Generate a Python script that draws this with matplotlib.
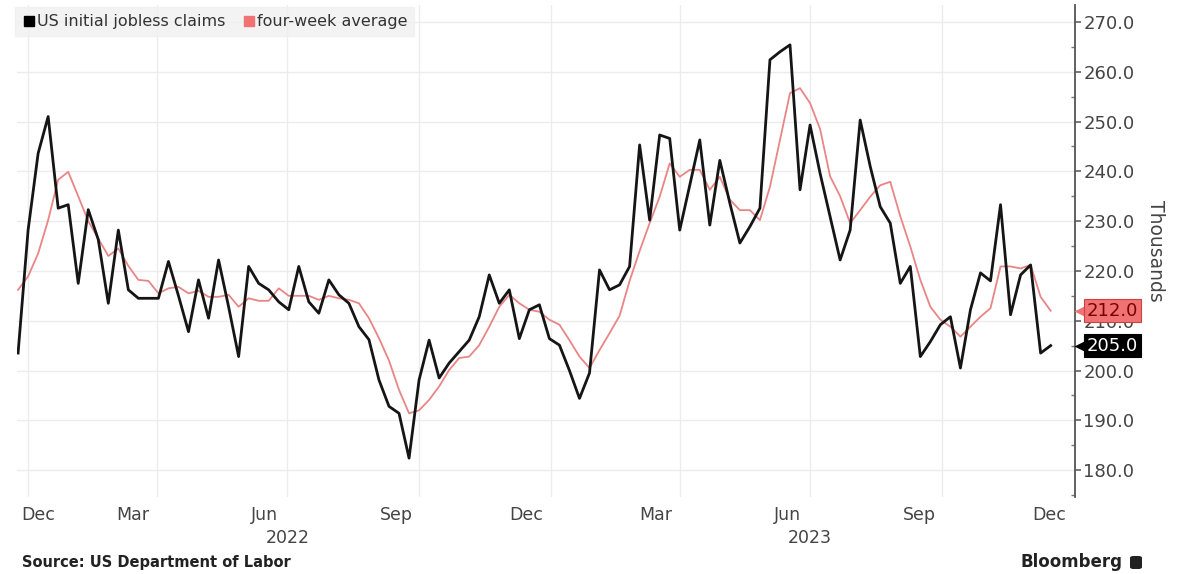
import matplotlib
matplotlib.use('Agg')
import matplotlib.pyplot as plt
import matplotlib.transforms as mtransforms
from matplotlib.lines import Line2D
from matplotlib.patches import FancyBboxPatch
import numpy as np
import pandas as pd

# Weekly US initial jobless claims (thousands), weeks ending Saturday
first_week = '2021-12-25'
claims = [
    203.5, 228.2, 243.6, 251.0, 232.6, 233.3, 217.5, 232.3, 226.3, 213.5,
    228.2, 216.2, 214.5, 214.5, 214.5, 221.9, 215.0, 207.8, 218.2, 210.5,
    222.2, 212.8, 202.8, 220.9, 217.5, 216.2, 213.8, 212.2, 220.9, 213.8,
    211.5, 218.2, 215.2, 213.5, 208.8, 206.2, 198.1, 192.8, 191.4, 182.4,
    198.1, 206.1, 198.5, 201.5, 203.8, 206.1, 210.8, 219.2, 213.5, 216.2,
    206.4, 212.2, 213.2, 206.4, 205.1, 200.0, 194.4, 199.5, 220.2, 216.2,
    217.2, 220.9, 245.3, 230.2, 247.3, 246.6, 228.2, 237.2, 246.3, 229.2,
    242.2, 233.6, 225.6, 228.9, 232.6, 262.4, 264.0, 265.4, 236.3, 249.3,
    239.6, 230.9, 222.2, 228.2, 250.3, 241.0, 232.9, 229.6, 217.5, 220.9,
    202.8, 205.8, 209.2, 210.8, 200.5, 212.2, 219.6, 218.0, 233.3, 211.2,
    219.2, 221.2, 203.5, 205.0,
]
avg4 = [
    216.2, 218.9, 223.5, 230.2, 238.3, 239.9, 235.0, 230.0, 226.5, 223.0,
    224.5, 221.0, 218.2, 218.0, 215.5, 216.5, 216.8, 215.5, 216.0, 214.8,
    214.8, 215.2, 212.8, 214.5, 214.0, 214.0, 216.5, 215.0, 215.0, 215.0,
    214.2, 215.0, 214.5, 214.2, 213.5, 210.5, 206.5, 202.0, 196.1, 191.4,
    192.0, 194.1, 196.8, 200.1, 202.5, 202.8, 205.1, 208.8, 212.8, 215.2,
    213.5, 212.2, 211.8, 210.2, 209.2, 206.1, 202.8, 200.5, 204.1, 207.5,
    211.0, 218.0, 224.0, 229.6, 234.9, 241.6, 238.9, 240.3, 240.3, 236.3,
    238.9, 234.3, 232.2, 232.2, 230.2, 236.9, 246.3, 255.7, 256.7, 253.7,
    248.5, 239.0, 235.0, 229.6, 232.2, 234.9, 237.2, 237.9, 231.0, 224.9,
    218.2, 212.8, 210.2, 208.8, 206.8, 208.8, 210.8, 212.5, 220.9, 220.9,
    220.5, 221.2, 214.8, 212.0,
]
weeks = pd.date_range(first_week, periods=len(claims), freq='7D')

month_labels = ['Dec', 'Mar', 'Jun', 'Sep', 'Dec', 'Mar', 'Jun', 'Sep', 'Dec']
month_label_dates = pd.to_datetime(['2021-12-15', '2022-03-15', '2022-06-15', '2022-09-15',
                                    '2022-12-15', '2023-03-15', '2023-06-15', '2023-09-15',
                                    '2023-12-15'])
year_labels = ['2022', '2023']
year_label_dates = pd.to_datetime(['2022-07-01', '2023-07-01'])
grid_dates = pd.date_range('2022-01-01', '2023-10-01', freq='QS')
y_ticks = np.arange(180, 271, 10)

BLACK = '#151515'
PINK = '#e98585'
GRID = '#ececec'
TXT = '#444444'

fig = plt.figure(figsize=(11.83, 5.74), dpi=100)
W, H = 1183, 574
ax = fig.add_axes([17 / W, (H - 497) / H, (1075 - 17) / W, (497 - 5) / H])

x_min, x_max = pd.Timestamp('2021-12-24 06:00'), pd.Timestamp('2024-01-02')
ax.set_xlim(x_min, x_max)
ax.set_ylim(174.6, 273.4)

# grid
for g in grid_dates:
    ax.axvline(g, color=GRID, lw=1.0, zorder=0)
for v in y_ticks:
    ax.axhline(v, color=GRID, lw=1.0, zorder=0)

ax.plot(weeks, avg4, color=PINK, lw=1.3, zorder=3)
ax.plot(weeks, claims, color=BLACK, lw=2.0, zorder=4)

# axes styling
for s in ['top', 'left', 'bottom']:
    ax.spines[s].set_visible(False)
ax.spines['right'].set_color('#555555')
ax.spines['right'].set_linewidth(1.3)
ax.yaxis.tick_right()
ax.set_yticks(y_ticks)
ax.set_yticklabels([f'{v:.1f}' for v in y_ticks])
ax.set_yticks(np.arange(175, 275, 5), minor=True)
ax.tick_params(axis='y', which='major', length=4, width=1.1, color='#555555',
               labelsize=13, labelcolor=TXT, pad=2)
ax.tick_params(axis='y', which='minor', length=3, width=1, color='#777777', direction='in')
ax.set_xticks([])

ax.yaxis.set_label_position('right')
ax.set_ylabel('Thousands', rotation=-90, fontsize=13.5, color=TXT, labelpad=22)

# month / year labels below the plot
tx = mtransforms.blended_transform_factory(ax.transData, ax.transAxes)
for lab, d in zip(month_labels, month_label_dates):
    if d < x_min:
        ax.text(x_min + pd.Timedelta(days=3), -0.037, lab, transform=tx, ha='left', va='center',
                fontsize=12.5, color=TXT)
    else:
        ax.text(d, -0.037, lab, transform=tx, ha='center', va='center', fontsize=12.5, color=TXT)
for lab, d in zip(year_labels, year_label_dates):
    ax.text(d, -0.083, lab, transform=tx, ha='center', va='center', fontsize=12.5, color=TXT)

# last value tags on the right axis
ty = mtransforms.blended_transform_factory(ax.transAxes, ax.transData)
tags = [(avg4[-1], '#f07272', '#d04040', '#7a0000'), (claims[-1], 'black', 'black', 'white')]
for val, fc, ec, tc in tags:
    ax.plot([1.005], [val], marker='<', ms=9, color=fc, mec='none', transform=ty,
            clip_on=False, zorder=6)
    ax.text(1.011, val, f'{val:.1f}', transform=ty, ha='left', va='center', fontsize=13,
            color=tc, clip_on=False, zorder=7,
            bbox=dict(boxstyle='square,pad=0.15', fc=fc, ec=ec, lw=0.8))

# legend
handles = [Line2D([], [], marker='s', ls='none', color='black', ms=7),
           Line2D([], [], marker='s', ls='none', color='#f07272', ms=7)]
leg = ax.legend(handles, ['US initial jobless claims', 'four-week average'],
                loc='upper left', bbox_to_anchor=(-0.002, 0.996), ncol=2, frameon=True,
                fancybox=False, borderpad=0.45, handletextpad=0.05, handlelength=0.9,
                columnspacing=1.0, borderaxespad=0, prop={'size': 11.5})
leg.get_frame().set_facecolor('#f0f0f0')
leg.get_frame().set_edgecolor('#f0f0f0')
for t in leg.get_texts():
    t.set_color('#333333')
leg.set_zorder(10)

# footer
fig.text(22 / W, 1 - 563 / H, 'Source: US Department of Labor', fontsize=10.5,
         fontweight='bold', color='#222222', va='center', ha='left')
fig.text(1020 / W, 1 - 562 / H, 'Bloomberg', fontsize=12, fontweight='bold',
         color='#222222', va='center', ha='left')
fig.patches.append(FancyBboxPatch((1130 / W, 1 - 569 / H), 12 / W, 13 / H,
                                  boxstyle='round,pad=0,rounding_size=0.003',
                                  transform=fig.transFigure, fc='#222222', ec='none'))

fig.savefig('out.png', dpi=100)
